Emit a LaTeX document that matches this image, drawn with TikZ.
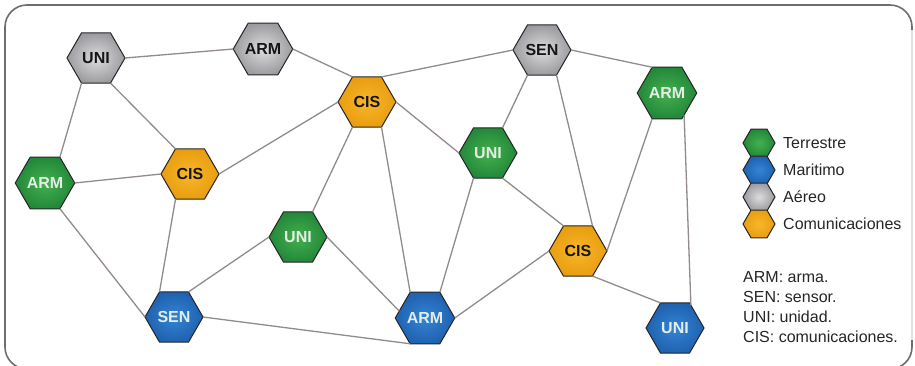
\documentclass[tikz,border=0pt]{standalone}
\usepackage{fontspec}
\setmainfont{Liberation Sans}
\usetikzlibrary{shapes.geometric}
\definecolor{edgecol}{HTML}{938B8B}
\definecolor{framecol}{HTML}{6E6E6E}
\definecolor{gIn}{HTML}{44B04E}\definecolor{gOut}{HTML}{23883A}
\definecolor{bIn}{HTML}{3484D4}\definecolor{bOut}{HTML}{1F62B0}
\definecolor{aIn}{HTML}{DCDCDE}\definecolor{aOut}{HTML}{9C9CA0}
\definecolor{oIn}{HTML}{F9B62A}\definecolor{oOut}{HTML}{E89E10}
\definecolor{lighttxt}{HTML}{E4EEE6}
\definecolor{darktxt}{HTML}{151515}
\definecolor{legtxt}{HTML}{262626}
\tikzset{
  hexbase/.style={regular polygon, regular polygon sides=6, minimum size=58pt,
    inner sep=0pt, outer sep=0pt, draw=black!85, line width=1pt,
    font=\bfseries\fontsize{16}{18}\selectfont},
  terr/.style={hexbase, inner color=gIn, outer color=gOut, text=lighttxt},
  mari/.style={hexbase, inner color=bIn, outer color=bOut, text=lighttxt},
  aere/.style={hexbase, inner color=aIn, outer color=aOut, text=darktxt},
  comu/.style={hexbase, inner color=oIn, outer color=oOut, text=darktxt},
  leghex/.style={minimum size=32pt, font=\tiny},
  link/.style={draw=edgecol, line width=1.3pt},
  legtext/.style={anchor=west, inner sep=0pt, text=legtxt, font=\fontsize{16}{18}\selectfont}
}
\begin{document}
\begin{tikzpicture}[x=1pt, y=-1pt]
\useasboundingbox (0,0) rectangle (915,366);
\fill[white] (0,0) rectangle (915,366);
\draw[framecol, line width=1.6pt, rounded corners=22pt] (5,5) rectangle (912,369);
\draw[white!88!black, line width=2pt] (912,30) -- (912,340);

% nodes
\node[aere] (u1) at (96,58) {UNI};
\node[aere] (a1) at (263,49) {ARM};
\node[comu] (c1) at (190,174) {CIS};
\node[terr] (a2) at (45,183) {ARM};
\node[comu] (c2) at (367,102) {CIS};
\node[aere] (s1) at (542,50) {SEN};
\node[terr] (a3) at (667,93) {ARM};
\node[terr] (u2) at (488,153) {UNI};
\node[terr] (u3) at (298,237) {UNI};
\node[mari] (s2) at (174,317) {SEN};
\node[mari] (a4) at (425,318) {ARM};
\node[comu] (c3) at (578,251) {CIS};
\node[mari] (u4) at (675,328) {UNI};

% connectors
\path[link] (u1.0) -- (a1.180);
\path[link] (u1.-120) -- (a2.60);
\path[link] (u1.-60) -- (c1.120);
\path[link] (a1.0) -- (c2.120);
\path[link] (a2.0) -- (c1.180);
\path[link] (a2.-60) -- (s2.180);
\path[link] (c1.0) -- (c2.180);
\path[link] (c1.-120) -- (s2.120);
\path[link] (c2.60) -- (s1.180);
\path[link] (c2.-120) -- (u3.60);
\path[link] (c2.-60) -- (a4.120);
\path[link] (c2.0) -- (u2.180);
\path[link] (s1.-120) -- (u2.60);
\path[link] (s1.-60) -- (c3.60);
\path[link] (s1.0) -- (a3.120);
\path[link] (a3.-120) -- (c3.0);
\path[link] (a3.-52) -- (u4.55);
\path[link] (u2.-120) -- (a4.60);
\path[link] (u2.-60) -- (c3.120);
\path[link] (u3.180) -- (s2.60);
\path[link] (u3.0) -- (a4.165);
\path[link] (s2.0) -- (a4.-120);
\path[link] (a4.0) -- (c3.180);
\path[link] (c3.-60) -- (u4.120);

% legend
\node[terr, leghex] (lt) at (759,143) {};
\node[mari, leghex] (lm) at (759,170) {};
\node[aere, leghex] (la) at (759,197) {};
\node[comu, leghex] (lc) at (759,224) {};
\node[legtext] (tt) at (783,143) {Terrestre};
\node[legtext] (tm) at (783,170) {Maritimo};
\node[legtext] (ta) at (783,197) {Aéreo};
\node[legtext] (tc) at (783,224) {Comunicaciones};
\node[legtext] (d1) at (743,277) {ARM: arma.};
\node[legtext] (d2) at (743,297) {SEN: sensor.};
\node[legtext] (d3) at (743,317) {UNI: unidad.};
\node[legtext] (d4) at (743,337) {CIS: comunicaciones.};
\end{tikzpicture}
\end{document}
